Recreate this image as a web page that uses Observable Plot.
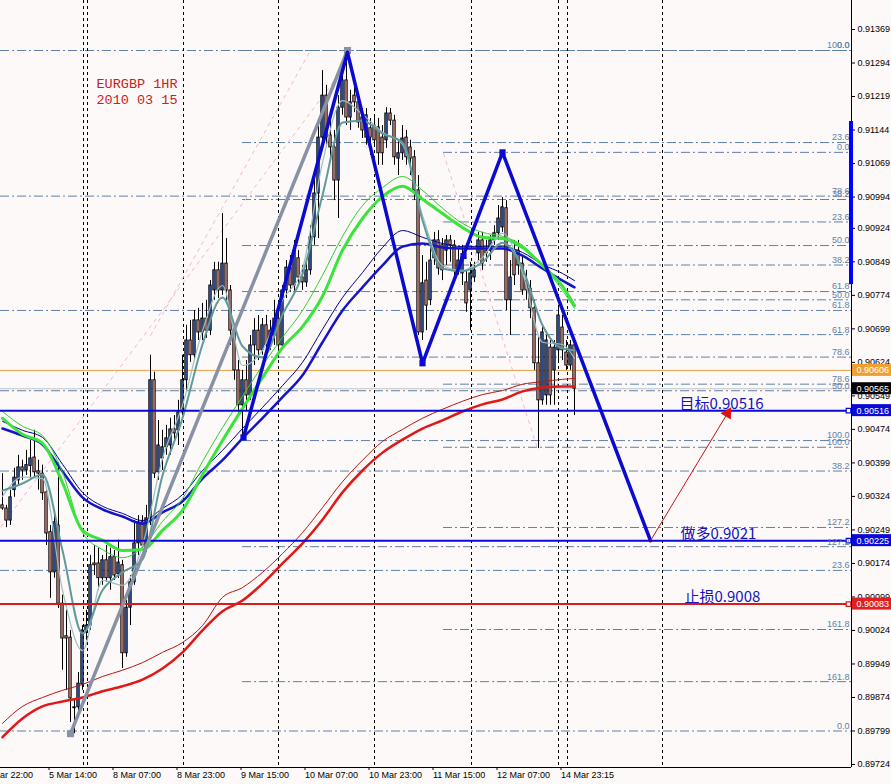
<!DOCTYPE html>
<html><head><meta charset="utf-8">
<script src="https://cdn.jsdelivr.net/npm/d3@7"></script>
<script src="https://cdn.jsdelivr.net/npm/@observablehq/plot@0.6"></script>
<style>body{margin:0;background:#fdf9f9;overflow:hidden}</style>
</head><body><div id="chart"></div>
<script>
// ---------- data ----------
const candleOpen = [0.90304,0.90297,0.90270,0.90338,0.90360,0.90389,0.90382,0.90392,0.90411,0.90380,0.90375,0.90333,0.90244,0.90154,0.90259,0.90084,0.90011,0.90008,0.89852,0.89852,0.89903,0.90024,0.90035,0.90174,0.90174,0.90141,0.90181,0.90141,0.90188,0.90150,0.90170,0.89973,0.90075,0.90132,0.90219,0.90266,0.90210,0.90275,0.90584,0.90378,0.90409,0.90434,0.90438,0.90474,0.90472,0.90512,0.90584,0.90673,0.90640,0.90718,0.90691,0.90722,0.90695,0.90785,0.90830,0.90785,0.90845,0.90785,0.90695,0.90606,0.90528,0.90584,0.90550,0.90662,0.90695,0.90651,0.90707,0.90662,0.90684,0.90722,0.90662,0.90785,0.90836,0.90796,0.90857,0.90814,0.90803,0.90830,0.90904,0.91002,0.91127,0.91221,0.91132,0.91105,0.91031,0.91194,0.91255,0.91172,0.91221,0.91206,0.91172,0.91127,0.91148,0.91154,0.91150,0.91127,0.91121,0.91181,0.91165,0.91080,0.91092,0.91127,0.91105,0.91083,0.91009,0.90691,0.90807,0.90763,0.90857,0.90897,0.90886,0.90874,0.90897,0.90886,0.90830,0.90823,0.90803,0.90785,0.90814,0.90868,0.90897,0.90874,0.90874,0.90897,0.90913,0.90926,0.90969,0.90763,0.90874,0.90874,0.90845,0.90807,0.90789,0.90745,0.90622,0.90539,0.90550,0.90657,0.90606,0.90651,0.90702,0.90646,0.90617,0.90662];
const candleHigh = [0.90375,0.90304,0.90338,0.90387,0.90416,0.90405,0.90427,0.90449,0.90472,0.90405,0.90394,0.90342,0.90259,0.90293,0.90400,0.90103,0.90069,0.90024,0.89868,0.89930,0.90035,0.90069,0.90192,0.90214,0.90208,0.90192,0.90214,0.90208,0.90203,0.90226,0.90181,0.90091,0.90147,0.90270,0.90281,0.90281,0.90304,0.90640,0.90602,0.90494,0.90472,0.90483,0.90499,0.90505,0.90539,0.90640,0.90707,0.90718,0.90740,0.90745,0.90756,0.90763,0.90807,0.90848,0.90848,0.90957,0.90901,0.90796,0.90707,0.90628,0.90606,0.90628,0.90684,0.90722,0.90729,0.90722,0.90729,0.90718,0.90763,0.90745,0.90796,0.90852,0.90863,0.90897,0.90874,0.90841,0.90848,0.90930,0.91042,0.91165,0.91277,0.91244,0.91188,0.91143,0.91221,0.91289,0.91322,0.91233,0.91244,0.91221,0.91192,0.91192,0.91170,0.91177,0.91170,0.91154,0.91194,0.91192,0.91177,0.91121,0.91154,0.91143,0.91121,0.91098,0.91042,0.90863,0.90848,0.90897,0.90915,0.90919,0.90901,0.90908,0.90908,0.90897,0.90879,0.90886,0.90830,0.90848,0.90848,0.90915,0.90915,0.90897,0.90908,0.90930,0.90975,0.90993,0.90986,0.90852,0.90897,0.90897,0.90863,0.90830,0.90807,0.90763,0.90680,0.90702,0.90684,0.90673,0.90673,0.90752,0.90729,0.90673,0.90673,0.90673];
const candleLow = [0.90293,0.90254,0.90259,0.90322,0.90349,0.90360,0.90371,0.90360,0.90364,0.90338,0.90315,0.90214,0.90096,0.90141,0.90073,0.89935,0.89890,0.89818,0.89793,0.89827,0.89890,0.90002,0.90024,0.90147,0.90114,0.90125,0.90132,0.90114,0.90136,0.90140,0.89939,0.89964,0.90035,0.90125,0.90192,0.90203,0.90199,0.90259,0.90364,0.90360,0.90382,0.90416,0.90416,0.90449,0.90438,0.90505,0.90561,0.90624,0.90628,0.90673,0.90673,0.90678,0.90684,0.90763,0.90767,0.90774,0.90763,0.90662,0.90584,0.90505,0.90456,0.90516,0.90539,0.90617,0.90628,0.90640,0.90651,0.90651,0.90662,0.90633,0.90651,0.90767,0.90781,0.90781,0.90796,0.90785,0.90792,0.90819,0.90886,0.90901,0.91110,0.91110,0.91076,0.90986,0.90946,0.91177,0.91154,0.91143,0.91183,0.91148,0.91125,0.91110,0.91087,0.91110,0.91065,0.91065,0.91103,0.91154,0.91065,0.91042,0.91076,0.91065,0.91042,0.90986,0.90684,0.90673,0.90695,0.90751,0.90841,0.90819,0.90807,0.90841,0.90848,0.90803,0.90819,0.90796,0.90736,0.90695,0.90803,0.90852,0.90830,0.90848,0.90852,0.90886,0.90897,0.90915,0.90740,0.90684,0.90796,0.90819,0.90774,0.90763,0.90722,0.90606,0.90431,0.90528,0.90528,0.90528,0.90528,0.90628,0.90628,0.90606,0.90606,0.90505];
const candleClose = [0.90297,0.90270,0.90322,0.90366,0.90389,0.90382,0.90394,0.90409,0.90378,0.90375,0.90331,0.90241,0.90154,0.90266,0.90084,0.90006,0.90006,0.89872,0.89850,0.89905,0.90024,0.90035,0.90170,0.90170,0.90141,0.90181,0.90141,0.90188,0.90147,0.90176,0.89973,0.90075,0.90132,0.90219,0.90266,0.90214,0.90275,0.90584,0.90375,0.90438,0.90434,0.90454,0.90474,0.90465,0.90512,0.90584,0.90673,0.90640,0.90718,0.90691,0.90722,0.90695,0.90796,0.90830,0.90785,0.90845,0.90785,0.90695,0.90606,0.90528,0.90584,0.90550,0.90662,0.90695,0.90651,0.90707,0.90662,0.90695,0.90722,0.90662,0.90785,0.90836,0.90796,0.90874,0.90814,0.90803,0.90830,0.90904,0.91002,0.91127,0.91221,0.91127,0.91105,0.91031,0.91194,0.91255,0.91172,0.91206,0.91206,0.91161,0.91143,0.91177,0.91127,0.91121,0.91092,0.91092,0.91181,0.91165,0.91083,0.91092,0.91125,0.91083,0.91080,0.91009,0.90691,0.90801,0.90751,0.90852,0.90897,0.90834,0.90830,0.90897,0.90886,0.90830,0.90852,0.90859,0.90756,0.90823,0.90830,0.90897,0.90845,0.90868,0.90897,0.90913,0.90946,0.90971,0.90763,0.90814,0.90819,0.90841,0.90785,0.90785,0.90745,0.90622,0.90539,0.90691,0.90673,0.90550,0.90657,0.90729,0.90651,0.90617,0.90662,0.90565];
const firstBar = 0;

// moving averages sampled at these bars
const maBars = [0,5,10,15,20,25,30,35,40,45,50,55,60,65,70,75,80,85,90,95,100,105,110,115,120,125,130,135,140,143];
const maTealFast = [0.90324,0.90367,0.90364,0.90114,0.89979,0.90136,0.90125,0.90214,0.90409,0.90528,0.90695,0.90796,0.90617,0.90651,0.90763,0.90834,0.91071,0.91210,0.91179,0.91139,0.91112,0.90953,0.90841,0.90830,0.90859,0.90913,0.90825,0.90669,0.90664,0.90633];
const maTealSlow = [0.90337,0.90353,0.90373,0.90203,0.90017,0.90114,0.90154,0.90183,0.90371,0.90499,0.90664,0.90769,0.90660,0.90635,0.90731,0.90821,0.90998,0.91161,0.91165,0.91136,0.91116,0.90942,0.90834,0.90828,0.90848,0.90892,0.90834,0.90707,0.90655,0.90651];
const maGreenThick = [0.90499,0.90463,0.90443,0.90355,0.90248,0.90226,0.90203,0.90205,0.90248,0.90293,0.90373,0.90449,0.90521,0.90590,0.90657,0.90704,0.90772,0.90875,0.90946,0.90995,0.91018,0.90989,0.90957,0.90926,0.90904,0.90901,0.90881,0.90841,0.90794,0.90751];
const maGreenThin = [0.90514,0.90481,0.90460,0.90378,0.90243,0.90205,0.90187,0.90210,0.90268,0.90319,0.90402,0.90478,0.90548,0.90617,0.90680,0.90740,0.90819,0.90906,0.90975,0.91015,0.91040,0.91009,0.90969,0.90935,0.90915,0.90906,0.90886,0.90841,0.90785,0.90745];
const maBlueThick = [0.90476,0.90460,0.90440,0.90380,0.90322,0.90295,0.90279,0.90263,0.90288,0.90313,0.90364,0.90405,0.90454,0.90499,0.90546,0.90595,0.90669,0.90740,0.90792,0.90841,0.90883,0.90890,0.90881,0.90879,0.90879,0.90879,0.90863,0.90834,0.90807,0.90792];
const maBlueThin = [0.90492,0.90472,0.90456,0.90396,0.90333,0.90302,0.90286,0.90270,0.90297,0.90328,0.90382,0.90427,0.90476,0.90523,0.90572,0.90624,0.90698,0.90769,0.90825,0.90881,0.90919,0.90904,0.90890,0.90883,0.90883,0.90883,0.90870,0.90843,0.90823,0.90807];
const maRedThick = [0.89785,0.89827,0.89854,0.89865,0.89874,0.89888,0.89899,0.89914,0.89939,0.89975,0.90024,0.90067,0.90091,0.90129,0.90174,0.90219,0.90272,0.90333,0.90382,0.90422,0.90451,0.90476,0.90494,0.90514,0.90530,0.90541,0.90559,0.90568,0.90570,0.90570];
const maRedThin = [0.89816,0.89854,0.89874,0.89890,0.89903,0.89921,0.89935,0.89952,0.89975,0.89997,0.90035,0.90098,0.90120,0.90154,0.90196,0.90243,0.90299,0.90357,0.90405,0.90447,0.90474,0.90499,0.90519,0.90537,0.90552,0.90561,0.90575,0.90581,0.90586,0.90588];

// axes
const yTickLabels = ["0.91369","0.91294","0.91219","0.91144","0.91069","0.90994","0.90924","0.90849","0.90774","0.90699","0.90624","0.90549","0.90474","0.90399","0.90324","0.90249","0.90174","0.90099","0.90024","0.89949","0.89874","0.89799","0.89724"];
const timeLabels = ["4 Mar 22:00","5 Mar 14:00","8 Mar 07:00","8 Mar 23:00","9 Mar 15:00","10 Mar 07:00","10 Mar 23:00","11 Mar 15:00","12 Mar 07:00","14 Mar 23:15"];
const timeBars = [-4,12,28,44,60,76,92,108,124,140];
const separatorBars = [20.25,21.25,45.25,69,93,117.25,139,141.25,165];

// fibonacci retracements
const fibZero = [0.89799, 0.91094, 0.91322];
const fibHundred = [0.91322, 0.90434, 0.90449];
const fibStartBar = [-0.5, 110.25, 60];
const fibLevelSets = [[0,23.6,38.2,50,61.8,78.6,100],[0,23.6,38.2,50,61.8,78.6,100,127.2,161.8],[0,23.6,38.2,50,61.8,78.6,100,127.2,161.8]];

// horizontal price lines
const targetPrice = 0.90516, entryPrice = 0.90225, stopPrice = 0.90083, askPrice = 0.90606, bidPrice = 0.90565;
const priceBoxValues = [askPrice, bidPrice, targetPrice, entryPrice, stopPrice];
const priceBoxColors = ["#f0a030","#000000","#0a0ad8","#0a0ad8","#e02020"];

// drawn objects
const grayTrendBars = [17, 86.25], grayTrendPrices = [0.89793, 0.91322];
const zigzagBars = [60.25, 86.25, 105, 125, 162], zigzagPrices = [0.90456, 0.91318, 0.90622, 0.91094, 0.90225];
const zigzagMarkBars = [60.25, 105, 115.25, 125], zigzagMarkPrices = [0.90456, 0.90622, 0.90862, 0.91094];
const arrowBars = [162, 181.25], arrowPrices = [0.90225, 0.90510];
const pinkLineBars = [[-0.5, 84.5],[37, 77],[110.25, 133.75]];
const pinkLinePrices = [[0.90255, 0.91273],[0.90684, 0.91322],[0.91092, 0.90431]];
const scrollBarPrices = [0.90798, 0.91163];
const titleText = "EURGBP 1HR\n2010 03 15", titleBar = 23.5, titlePrice = 0.91264;
const noteTexts = ["目标0.90516","做多0.9021","止损0.9008"];
const noteBars = [169.25, 169.5, 170.5];
const notePrices = [targetPrice, entryPrice, stopPrice];

// ---------- build ----------
const xMin = -0.5, xMax = 212.25, yMin = 0.897173, yMax = 0.914339;
const plotH = 767;
const pxPerPrice = plotH / (yMax - yMin);
const bull = "#3f62b4", bear = "#cc8d86";
const bars = candleOpen.map((o, k) => ({i: firstBar + k, open: o, high: candleHigh[k], low: candleLow[k], close: candleClose[k]}));
const ma = (vals) => maBars.map((b, k) => ({bar: b, price: vals[k]}));
const fibRows = [];
fibZero.forEach((z, s) => fibLevelSets[s].forEach(l => fibRows.push({price: z + (fibHundred[s] - z) * l / 100, start: fibStartBar[s], label: l.toFixed(1)})));
const boxes = priceBoxValues.map((p, k) => ({price: p, color: priceBoxColors[k]}));
const endMarks = [{price: targetPrice, color: "#0a0ad8"}, {price: entryPrice, color: "#0a0ad8"}, {price: stopPrice, color: "#d01818"}];
const fibColor = "#6180a6";
const pinkRows = pinkLineBars.map((b, k) => ({x1: b[0], x2: b[1], y1: pinkLinePrices[k][0], y2: pinkLinePrices[k][1]}));
const zig = zigzagBars.map((b, k) => ({bar: b, price: zigzagPrices[k]}));
const gray = grayTrendBars.map((b, k) => ({bar: b, price: grayTrendPrices[k]}));
const notes = noteTexts.map((t, k) => ({text: t, bar: noteBars[k], price: notePrices[k]}));
const arrowAngle = Math.atan2((arrowPrices[1]-arrowPrices[0]) * pxPerPrice, (arrowBars[1]-arrowBars[0]) * 4) * 180 / Math.PI;

const chart = Plot.plot({
  width: 891, height: 784,
  marginLeft: 0, marginRight: 40, marginTop: 0, marginBottom: 17,
  style: {fontFamily: "'Liberation Sans', Arial, sans-serif", fontSize: "9px", background: "#fdf9f9", overflow: "visible"},
  x: {domain: [xMin, xMax], label: null},
  y: {domain: [yMin, yMax], label: null},
  marks: [
    // fib levels
    Plot.ruleY(fibRows, {y: "price", x1: "start", x2: xMax, stroke: fibColor, strokeDasharray: "9,3,2,3", strokeWidth: 1}),
    // separators
    Plot.ruleX(separatorBars, {stroke: "#000", strokeDasharray: "3,3", strokeWidth: 1}),
    // pink diagonals
    Plot.link(pinkRows, {x1: "x1", y1: "y1", x2: "x2", y2: "y2", stroke: "#f2b8c8", strokeDasharray: "4,4", strokeWidth: 1}),
    // price lines
    Plot.ruleY([askPrice], {stroke: "#eaa14a", strokeWidth: 1}),
    Plot.ruleY([bidPrice], {stroke: "#c4c4c4", strokeWidth: 1}),
    // candles
    Plot.ruleX(bars, {x: "i", y1: "low", y2: "high", stroke: "#000", strokeWidth: 1}),
    Plot.rect(bars, {x1: d => d.i - 0.3, x2: d => d.i + 0.3, y1: "open", y2: "close", fill: d => d.close >= d.open ? bull : bear, stroke: "#000", strokeWidth: 0.9}),
    // moving averages
    Plot.line(ma(maRedThin), {x: "bar", y: "price", stroke: "#b81414", strokeWidth: 1, curve: "monotone-x"}),
    Plot.line(ma(maRedThick), {x: "bar", y: "price", stroke: "#e01818", strokeWidth: 2.5, curve: "monotone-x"}),
    Plot.line(ma(maBlueThin), {x: "bar", y: "price", stroke: "#000090", strokeWidth: 1, curve: "monotone-x"}),
    Plot.line(ma(maBlueThick), {x: "bar", y: "price", stroke: "#1414c8", strokeWidth: 2.5, curve: "monotone-x"}),
    Plot.line(ma(maGreenThin), {x: "bar", y: "price", stroke: "#30d030", strokeWidth: 1, curve: "monotone-x"}),
    Plot.line(ma(maGreenThick), {x: "bar", y: "price", stroke: "#3ae43a", strokeWidth: 3, curve: "monotone-x"}),
    Plot.line(ma(maTealFast), {x: "bar", y: "price", stroke: "#9cc0c0", strokeWidth: 1.2, curve: "monotone-x"}),
    Plot.line(ma(maTealSlow), {x: "bar", y: "price", stroke: "#5f9a9c", strokeWidth: 2, curve: "monotone-x"}),
    // horizontal trade lines
    Plot.ruleY([targetPrice], {stroke: "#0a0ad8", strokeWidth: 2}),
    Plot.ruleY([entryPrice], {stroke: "#0a0ad8", strokeWidth: 2}),
    Plot.ruleY([stopPrice], {stroke: "#d81c1c", strokeWidth: 2}),
    Plot.dot(endMarks, {x: xMax - 0.75, y: "price", symbol: "square", r: 2.6, fill: "#fff", stroke: "color", strokeWidth: 1.2}),
    // trend / zigzag objects
    Plot.line(gray, {x: "bar", y: "price", stroke: "#8892a4", strokeWidth: 3.5}),
    Plot.dot(gray, {x: "bar", y: "price", symbol: "square", r: 4, fill: "#8892a4"}),
    Plot.line(zig, {x: "bar", y: "price", stroke: "#0a0ad0", strokeWidth: 3.5}),
    Plot.dot(zigzagMarkBars.map((b, k) => ({bar: b, price: zigzagMarkPrices[k]})), {x: "bar", y: "price", symbol: "square", r: 3.5, fill: "#0a0ad0"}),
    Plot.link([0], {x1: arrowBars[0], y1: arrowPrices[0], x2: arrowBars[1], y2: arrowPrices[1], stroke: "#cc1010", strokeWidth: 1}),
    Plot.dot([0], {x: arrowBars[1], y: arrowPrices[1], symbol: "triangle", r: 4.5, fill: "#e01010", rotate: 90 - arrowAngle}),
    // fib labels
    Plot.text(fibRows, {x: xMax, y: "price", text: "label", textAnchor: "end", dx: -2, dy: -5, fill: fibColor, fontSize: 9}),
    // annotations
    Plot.text([titleText], {x: titleBar, y: titlePrice, text: d => d, textAnchor: "start", lineAnchor: "top", lineHeight: 1.2, fill: "#cc2020", fontSize: 13.5, fontFamily: "'Liberation Mono', monospace"}),
    Plot.text(notes, {x: "bar", y: "price", text: "text", textAnchor: "start", lineAnchor: "bottom", dy: -2, fill: "#1414c0", fontSize: 15, fontFamily: "'Noto Sans CJK SC', sans-serif"}),
    // axes
    Plot.ruleX([xMax], {stroke: "#000", strokeWidth: 1}),
    Plot.ruleY([yMin], {stroke: "#000", strokeWidth: 1}),
    Plot.axisY({anchor: "right", ticks: yTickLabels.map(Number), tickFormat: d => d.toFixed(5), tickSize: 3, tickPadding: 3, textAnchor: "start", fill: "#000", stroke: "#000", fontSize: 9, label: null}),
    Plot.axisX({anchor: "bottom", ticks: timeBars, tickFormat: d => timeLabels[timeBars.indexOf(d)], tickSize: 3, tickPadding: 1, textAnchor: "start", dx: -1.5, fill: "#000", stroke: "#000", fontSize: 9, label: null}),
    Plot.rect([{price: 0}], {x1: xMax - 0.5, x2: xMax + 0.5, y1: scrollBarPrices[0], y2: scrollBarPrices[1], fill: "#0000ff"}),
    Plot.rect(boxes, {x1: xMax + 0.25, x2: xMax + 10, y1: d => d.price - 6 / pxPerPrice, y2: d => d.price + 6 / pxPerPrice, fill: "color"}),
    Plot.text(boxes, {x: xMax, y: "price", text: d => d.price.toFixed(5), textAnchor: "start", dx: 5, fill: "#fff", fontSize: 9})
  ]
});
document.getElementById("chart").appendChild(chart);
</script>
</body></html>
